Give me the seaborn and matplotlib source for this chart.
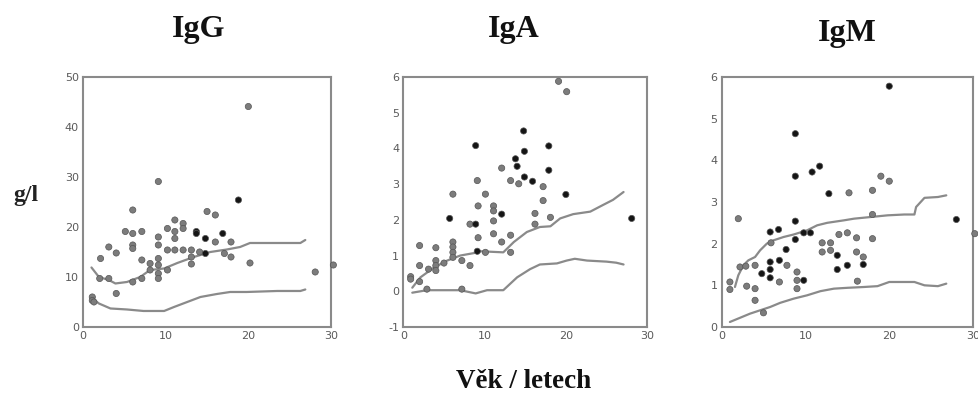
import numpy as np
import pandas as pd
import matplotlib
matplotlib.use("Agg")
import matplotlib.pyplot as plt
import seaborn as sns

# ---------------- data ----------------
# IgG scatter: age, value, shade (0 grey, 1 black)
igg_x = [1.1, 1.1, 1.3, 2.1, 2.0, 3.1, 3.1, 4.0, 4.0, 5.1, 6.0, 6.0, 6.0, 6.0, 6.0,
         7.1, 7.1, 7.1, 8.1, 8.1, 9.1, 9.1, 9.1, 9.1, 9.1, 9.1, 9.1, 10.2, 10.2, 10.2,
         11.1, 11.1, 11.1, 11.1, 12.1, 12.1, 12.1, 13.1, 13.1, 13.1, 13.7, 13.7, 14.1,
         14.8, 14.8, 15.0, 16.0, 16.0, 16.9, 17.1, 17.9, 17.9, 18.8, 20.0, 20.2, 28.1, 30.3]
igg_y = [6.0, 5.3, 5.0, 13.7, 9.7, 16.0, 9.7, 14.8, 6.7, 19.1, 23.4, 18.7, 16.4, 15.7, 9.0,
         19.1, 13.4, 9.7, 12.7, 11.4, 29.1, 18.0, 16.4, 13.7, 12.4, 10.7, 9.7, 19.7, 15.4, 11.4,
         21.4, 19.1, 17.7, 15.4, 20.7, 19.7, 15.4, 15.4, 14.0, 12.6, 19.1, 18.7, 15.0,
         14.7, 17.7, 23.1, 22.4, 17.0, 18.7, 14.7, 14.0, 17.0, 25.4, 44.1, 12.8, 11.0, 12.4]
igg_k = [0, 0, 0, 0, 0, 0, 0, 0, 0, 0, 0, 0, 0, 0, 0,
         0, 0, 0, 0, 0, 0, 0, 0, 0, 0, 0, 0, 0, 0, 0,
         0, 0, 0, 0, 0, 0, 0, 0, 0, 0, 1, 1, 0,
         1, 1, 0, 0, 0, 1, 0, 0, 0, 1, 0, 0, 0, 0]
igg_up_x = [1.0, 1.9, 3.1, 3.9, 5.3, 6.9, 8.1, 9.8, 11.4, 13.4, 15.4, 17.4, 19.0, 20.2, 23.5, 26.3, 26.9]
igg_up_y = [11.9, 10.0, 9.4, 8.7, 9.0, 10.0, 11.4, 11.7, 12.8, 14.0, 15.0, 15.5, 16.0, 16.8, 16.8, 16.8, 17.4]
igg_lo_x = [1.1, 1.9, 3.3, 5.3, 7.3, 9.8, 11.0, 12.6, 14.2, 16.2, 17.8, 19.8, 23.5, 26.3, 26.9]
igg_lo_y = [5.7, 4.7, 3.7, 3.5, 3.2, 3.2, 4.0, 5.0, 6.0, 6.6, 7.0, 7.0, 7.2, 7.2, 7.5]

# IgA
iga_x = [0.9, 0.9, 2.0, 2.0, 2.0, 2.9, 3.1, 4.0, 4.0, 4.0, 4.0, 5.0, 5.7, 6.1, 6.1, 6.1,
         6.1, 6.1, 7.2, 7.2, 8.2, 8.2, 8.9, 8.9, 9.1, 9.2, 9.2, 9.1, 10.1, 10.1, 11.1, 11.1,
         11.1, 11.1, 12.1, 12.1, 12.1, 13.2, 13.2, 13.2, 13.8, 14.0, 14.2, 14.8, 14.9, 14.9,
         15.9, 16.2, 16.2, 17.2, 17.2, 17.9, 17.9, 18.1, 19.1, 20.1, 20.0, 28.1]
iga_y = [0.41, 0.34, 1.28, 0.72, 0.27, 0.06, 0.62, 1.22, 0.86, 0.72, 0.58, 0.79, 2.04, 2.72, 1.38, 1.24,
         1.09, 0.95, 0.86, 0.06, 1.88, 0.72, 1.88, 4.08, 3.10, 2.39, 1.50, 1.12, 2.72, 1.09, 2.39, 2.25,
         1.97, 1.61, 3.45, 2.16, 1.38, 3.10, 1.57, 1.09, 3.71, 3.50, 3.01, 4.49, 3.92, 3.20,
         3.08, 2.18, 1.88, 2.93, 2.54, 4.07, 3.39, 2.07, 5.88, 5.59, 2.71, 2.04]
iga_k = [0, 0, 0, 0, 0, 0, 0, 0, 0, 0, 0, 0, 1, 0, 0, 0,
         0, 0, 0, 0, 0, 0, 1, 1, 0, 0, 0, 1, 0, 0, 0, 0,
         0, 0, 0, 1, 0, 0, 0, 0, 1, 1, 0, 1, 1, 1,
         1, 0, 0, 0, 0, 1, 1, 0, 0, 0, 1, 1]
iga_up_x = [1.1, 2.1, 3.8, 5.4, 7.0, 8.7, 9.5, 12.3, 13.6, 15.2, 16.8, 18.1, 19.3, 20.9, 23.0, 24.6, 25.8, 27.1]
iga_up_y = [0.10, 0.39, 0.67, 0.86, 1.00, 1.07, 1.12, 1.09, 1.38, 1.66, 1.80, 1.82, 2.04, 2.16, 2.23, 2.42, 2.56, 2.78]
iga_lo_x = [1.1, 2.9, 5.0, 7.0, 8.9, 10.3, 12.3, 14.0, 15.6, 16.8, 18.9, 20.1, 21.1, 22.6, 25.0, 26.2, 27.1]
iga_lo_y = [-0.04, 0.03, 0.03, 0.03, -0.06, 0.03, 0.03, 0.39, 0.62, 0.75, 0.78, 0.86, 0.91, 0.86, 0.83, 0.80, 0.75]

# IgM
igm_x = [1.0, 1.0, 2.0, 2.2, 2.9, 3.0, 4.0, 4.0, 4.0, 4.8, 5.0, 5.8, 5.8, 5.8, 5.8, 5.9,
         6.8, 6.9, 6.9, 7.7, 7.8, 8.8, 8.8, 8.8, 8.8, 9.0, 9.0, 9.0, 9.8, 9.8, 10.6, 10.8,
         11.7, 12.0, 12.0, 12.8, 13.0, 13.0, 13.8, 13.8, 14.0, 15.0, 15.0, 15.2, 16.1, 16.1,
         16.2, 16.9, 16.9, 18.0, 18.0, 18.0, 19.0, 20.0, 20.0, 28.0, 30.2]
igm_y = [1.08, 0.90, 2.60, 1.44, 1.46, 0.98, 1.48, 0.92, 0.64, 1.28, 0.34, 2.28, 1.56, 1.38, 1.18, 2.02,
         2.34, 1.60, 1.08, 1.86, 1.48, 4.64, 3.62, 2.54, 2.10, 1.32, 1.12, 0.92, 1.12, 2.26, 2.26, 3.72,
         3.86, 2.02, 1.80, 3.20, 2.02, 1.84, 1.72, 1.38, 2.22, 2.26, 1.48, 3.22, 2.14, 1.80,
         1.10, 1.68, 1.50, 3.28, 2.70, 2.12, 3.62, 5.78, 3.50, 2.58, 2.24]
igm_k = [0, 0, 0, 0, 0, 0, 0, 0, 0, 1, 0, 1, 1, 1, 1, 0,
         1, 1, 0, 1, 0, 1, 1, 1, 1, 0, 0, 0, 1, 1, 1, 1,
         1, 0, 0, 1, 0, 0, 1, 1, 0, 0, 1, 0, 0, 0,
         0, 0, 1, 0, 0, 0, 0, 1, 0, 1, 0]
igm_up_x = [1.6, 2.0, 2.6, 3.2, 4.0, 4.6, 5.4, 6.2, 7.4, 8.6, 10.2, 11.4, 12.6, 14.6, 15.8, 17.8,
            19.8, 21.8, 23.0, 23.2, 24.2, 25.8, 26.8]
igm_up_y = [0.96, 1.24, 1.48, 1.60, 1.68, 1.84, 2.00, 2.08, 2.16, 2.22, 2.32, 2.44, 2.50, 2.56, 2.60, 2.64,
            2.68, 2.70, 2.70, 2.88, 3.10, 3.12, 3.16]
igm_lo_x = [1.0, 2.2, 3.4, 4.6, 5.8, 7.0, 8.6, 10.2, 11.8, 13.4, 15.0, 17.0, 18.6, 20.0, 21.8, 23.0, 24.2, 25.8, 26.8]
igm_lo_y = [0.12, 0.22, 0.32, 0.40, 0.48, 0.58, 0.68, 0.76, 0.86, 0.92, 0.94, 0.96, 0.98, 1.08, 1.08, 1.08, 1.00, 0.98, 1.04]

titles = ["IgG", "IgA", "IgM"]
x_ticks = [0, 10, 20, 30]
y_ticks = [[0, 10, 20, 30, 40, 50], [-1, 0, 1, 2, 3, 4, 5, 6], [0, 1, 2, 3, 4, 5, 6]]
y_lims = [(0, 50), (-1, 6), (0, 6)]
y_label = "g/l"
x_label = "Věk / letech"

# ---------------- plotting ----------------
sns.set_style("white")
plt.rcParams['font.family'] = ['DejaVu Sans']
plt.rcParams['axes.unicode_minus'] = False

fig = plt.figure(figsize=(9.79, 3.93), dpi=100)
boxes = [(0.085, 0.168, 0.253, 0.636), (0.412, 0.168, 0.249, 0.636), (0.737, 0.168, 0.257, 0.636)]
title_pos = [(199 / 979, 1 - 29 / 393), (514 / 979, 1 - 29 / 393), (847 / 979, 1 - 34 / 393)]

sets = [
    (igg_x, igg_y, igg_k, igg_up_x, igg_up_y, igg_lo_x, igg_lo_y),
    (iga_x, iga_y, iga_k, iga_up_x, iga_up_y, iga_lo_x, iga_lo_y),
    (igm_x, igm_y, igm_k, igm_up_x, igm_up_y, igm_lo_x, igm_lo_y),
]

for i, (sx, sy, sk, ux, uy, lx, ly) in enumerate(sets):
    ax = fig.add_axes(boxes[i])
    pts = pd.DataFrame({"age": sx, "val": sy, "shade": ["black" if k else "grey" for k in sk]})
    up = pd.DataFrame({"age": ux, "val": uy})
    lo = pd.DataFrame({"age": lx, "val": ly})
    sns.lineplot(data=up, x="age", y="val", ax=ax, color="#8a8a8a", lw=1.6, estimator=None, sort=False)
    sns.lineplot(data=lo, x="age", y="val", ax=ax, color="#8a8a8a", lw=1.6, estimator=None, sort=False)
    sns.scatterplot(data=pts, x="age", y="val", hue="shade", ax=ax,
                    palette={"grey": "#7c7c7c", "black": "#151515"},
                    s=20, edgecolor="#555555", linewidth=0.5, legend=False, clip_on=False, zorder=3)
    ax.set_xlim(0, 30)
    ax.set_ylim(*y_lims[i])
    ax.set_xticks(x_ticks)
    ax.set_yticks(y_ticks[i])
    ax.tick_params(axis="both", length=0, labelsize=8, labelcolor="#5a5a5a", pad=3)
    ax.set_xlabel("")
    ax.set_ylabel("")
    for sp in ax.spines.values():
        sp.set_color("#8a8a8a")
        sp.set_linewidth(1.5)
        sp.set_visible(True)
    fig.text(title_pos[i][0], title_pos[i][1], titles[i], ha="center", va="center",
             fontsize=23, family="Liberation Serif", fontweight="bold", color="#111111")

fig.text(26 / 979, 1 - 196 / 393, y_label, ha="center", va="center", fontsize=17,
         family="Liberation Serif", fontweight="bold", color="#222222")
fig.text(524 / 979, 1 - 381 / 393, x_label, ha="center", va="center", fontsize=19.5,
         family="Liberation Serif", fontweight="bold", color="#111111")

fig.savefig("out.png", dpi=100, facecolor="white")
